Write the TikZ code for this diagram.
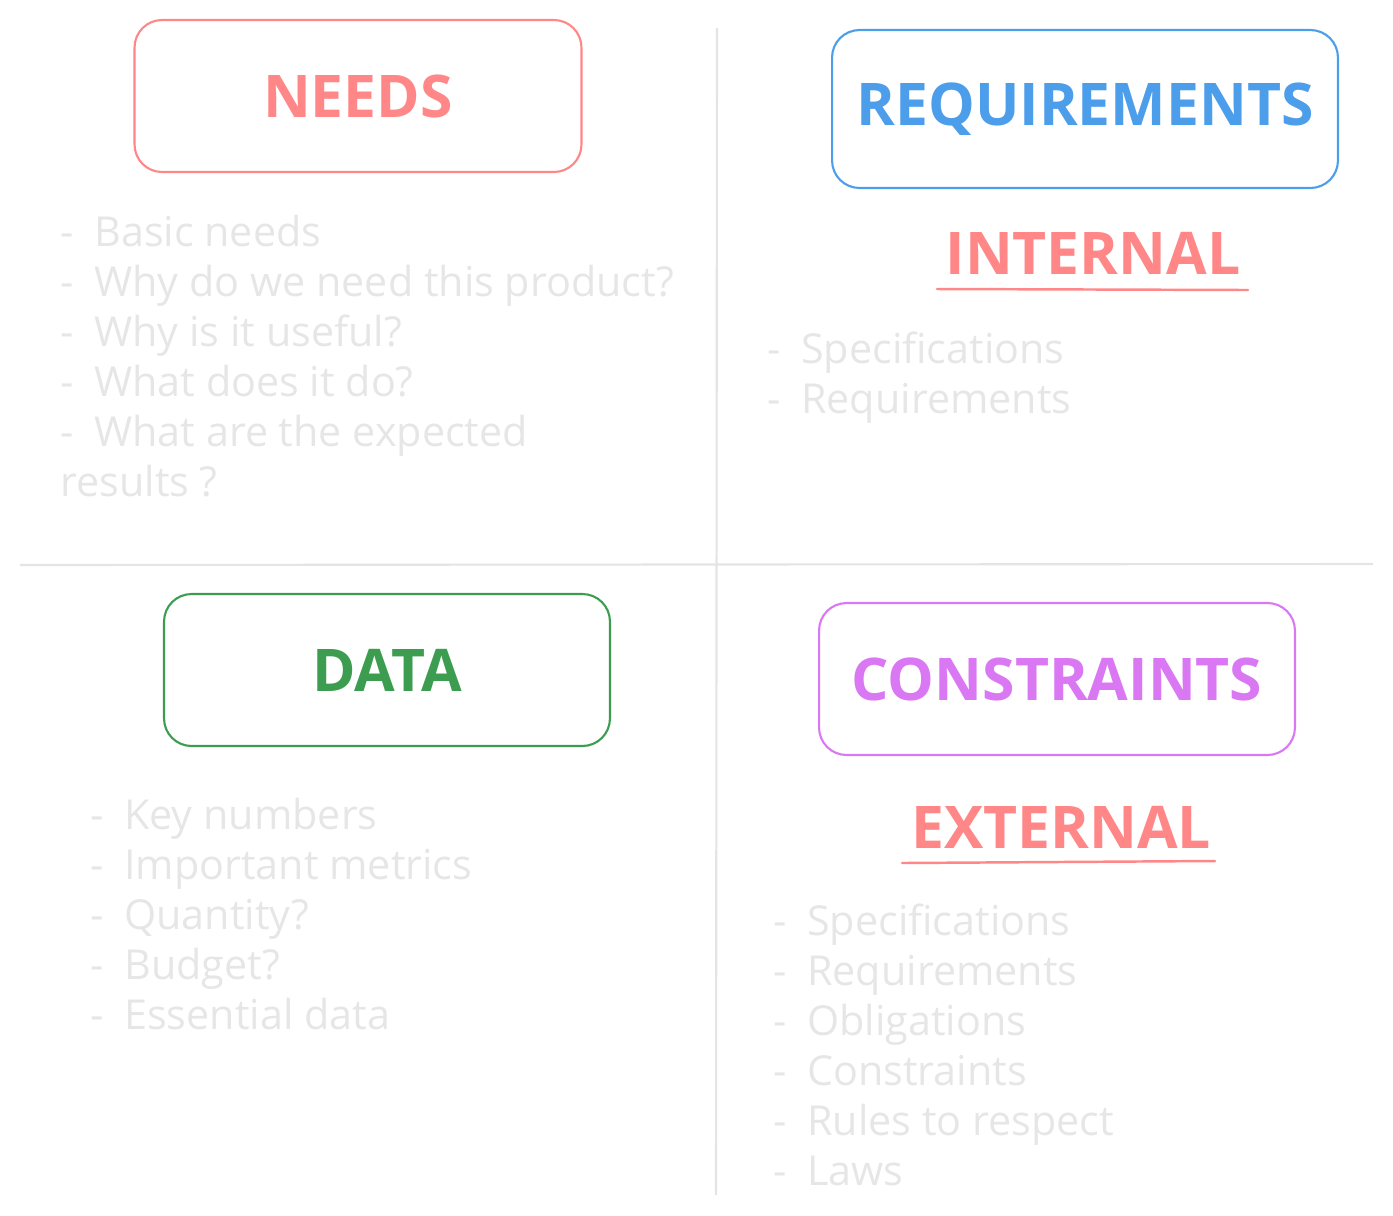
\documentclass[tikz,border=0pt]{standalone}
\usepackage{fontspec}
\setmainfont{Open Sans}
\usepackage{tikz}
\usetikzlibrary{positioning}

\definecolor{needred}{HTML}{FF8787}
\definecolor{reqblue}{HTML}{4C9EEB}
\definecolor{datagreen}{HTML}{3C9D50}
\definecolor{conviolet}{HTML}{DA77F2}
\definecolor{softgray}{HTML}{E6E6E6}
\definecolor{linegray}{HTML}{E4E4E4}

\begin{document}
\begin{tikzpicture}[
    x=0.02cm, y=-0.02cm,
    title/.style={rectangle, draw, line width=1.2pt, rounded corners=0.55cm, minimum height=3.04cm, text centered, font=\fontsize{33.5}{38}\selectfont\bfseries},
    tag/.style={font=\fontsize{33.5}{38}\selectfont\bfseries, text=needred},
    item/.style={anchor=base west, inner sep=0pt, text=softgray, font=\fontsize{23.5}{28}\selectfont},
    divider/.style={draw=linegray, line width=1.2pt},
    underline/.style={draw=needred, line width=1.4pt, line cap=round}
]
    \useasboundingbox (0,0) rectangle (1393,1215);

    % Dividers
    \draw[divider] (717,28) -- (716,1195);
    \draw[divider] (20,565) -- (1373,564);

    % Top left: needs
    \node [title, draw=needred, text=needred, minimum width=8.94cm] (needs) at (358,96) {NEEDS};
    \foreach \t [count=\i from 0] in {Basic needs, Why do we need this product?, Why is it useful?, What does it do?, What are the expected}
        \node [item] (need\i) at (60,246+50*\i) {-\enspace\t};
    \node [item] (need5) at (60,496) {results ?};

    % Top right: requirements
    \node [title, draw=reqblue, text=reqblue, minimum width=10.12cm, minimum height=3.16cm] (req) at (1085,109) {REQUIREMENTS};
    \node [tag, below of=req, node distance=2.88cm, xshift=0.16cm] (internal) {INTERNAL};
    \coordinate (ulia) at (937,289);
    \coordinate (ulib) at (1248,290);
    \draw[underline] (ulia) -- (ulib);
    \foreach \t [count=\i from 0] in {Specifications, Requirements}
        \node [item] (int\i) at (767,363+50*\i) {-\enspace\t};

    % Bottom left: data
    \node [title, draw=datagreen, text=datagreen, minimum width=8.92cm] (data) at (387,670) {DATA};
    \foreach \t [count=\i from 0] in {Key numbers, Important metrics, Quantity?, Budget?, Essential data}
        \node [item] (dat\i) at (90,829+50*\i) {-\enspace\t};

    % Bottom right: constraints
    \node [title, draw=conviolet, text=conviolet, minimum width=9.52cm] (cons) at (1057,679) {CONSTRAINTS};
    \node [tag, below of=cons, node distance=2.96cm, xshift=0.08cm] (external) {EXTERNAL};
    \coordinate (ulea) at (902,863);
    \coordinate (uleb) at (1215,861);
    \draw[underline] (ulea) -- (uleb);
    \foreach \t [count=\i from 0] in {Specifications, Requirements, Obligations, Constraints, Rules to respect, Laws}
        \node [item] (ext\i) at (773,935+50*\i) {-\enspace\t};

\end{tikzpicture}
\end{document}
